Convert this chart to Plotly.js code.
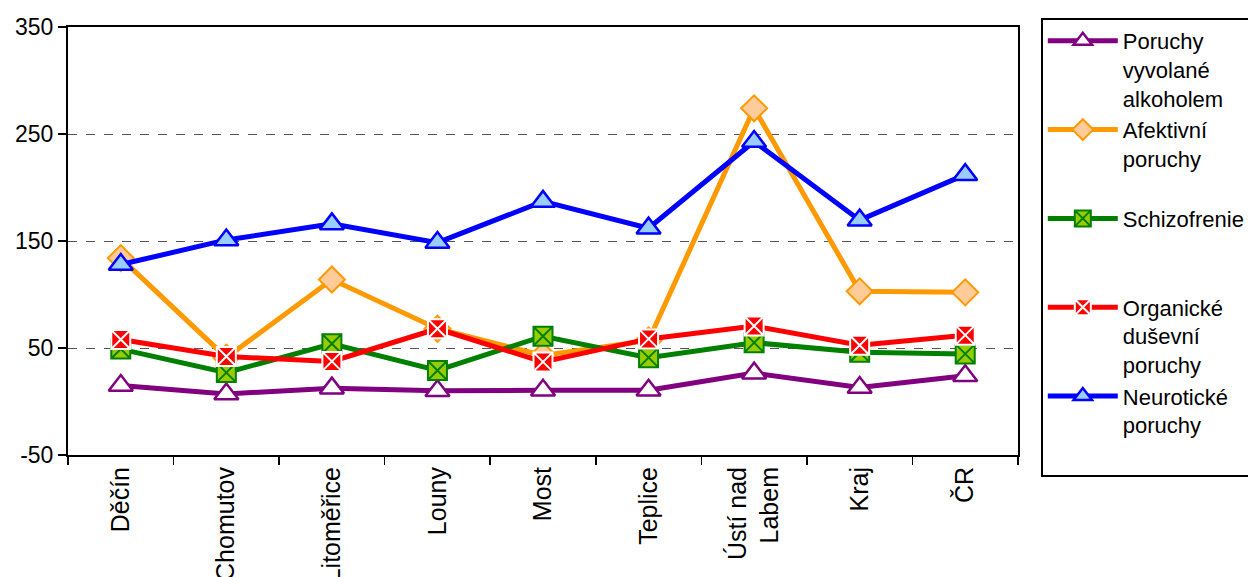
<!DOCTYPE html>
<html>
<head>
<meta charset="utf-8">
<script src="https://cdn.plot.ly/plotly-3.0.1.min.js"></script>
<style>html,body{margin:0;padding:0;background:#fff;}#chart{width:1248px;height:577px;}</style>
</head>
<body>
<div id="chart"></div>
<script>
const categories = ["Děčín", "Chomutov", "Litoměřice", "Louny", "Most", "Teplice", "Ústí nad<br>Labem", "Kraj", "ČR"];
const alkohol = [15, 7, 12.5, 10, 10.5, 10.5, 26.5, 13, 24];
const afektivni = [134, 41, 114, 68, 43, 57, 274, 103, 102];
const schizofrenie = [49, 27, 54, 29, 61, 41, 55, 46, 44.5];
const organicke = [58, 42, 37.5, 68, 37, 58.5, 70.5, 52.5, 62];
const neuroticke = [128, 151, 166, 148.5, 187, 162, 243, 169.5, 212];
const seriesNames = [
  "Poruchy<br>vyvolané<br>alkoholem",
  "Afektivní<br>poruchy<br>&nbsp;",
  "Schizofrenie<br>&nbsp;<br>&nbsp;",
  "Organické<br>duševní<br>poruchy",
  "Neurotické<br>poruchy<br>&nbsp;"
];
const yTicks = [-50, 50, 150, 250, 350];

const FONT = "Liberation Sans, Arial, sans-serif";

function tr(y, name, lineColor, symbol, fill, mlColor, mlWidth, size) {
  return {
    type: "scatter", mode: "lines+markers", x: categories, y: y, name: name,
    line: {color: lineColor, width: 5},
    marker: {symbol: symbol, color: fill, size: size, line: {color: mlColor, width: mlWidth}}
  };
}

const data = [
  tr(alkohol, seriesNames[0], "#800080", "triangle-up", "#ffffff", "#800080", 2.5, 21),
  tr(afektivni, seriesNames[1], "#ff9900", "diamond", "#ffcc99", "#ff9900", 2, 20),
  tr(schizofrenie, seriesNames[2], "#008000", "square-x", "#99cc00", "#008000", 2, 19),
  tr(organicke, seriesNames[3], "#ff0000", "square-x", "#ff0000", "#ffffff", 2, 19),
  tr(neuroticke, seriesNames[4], "#0000ff", "triangle-up", "#99ccff", "#0000ff", 2.5, 21)
];

const layout = {
  width: 1248, height: 577,
  margin: {l: 68, r: 230, t: 27, b: 122, autoexpand: false},
  paper_bgcolor: "#ffffff", plot_bgcolor: "#ffffff",
  font: {family: FONT, color: "#000000", size: 22},
  showlegend: true,
  legend: {
    x: 1.024, xanchor: "left", y: 1.021, yanchor: "top",
    bordercolor: "#000000", borderwidth: 2, bgcolor: "#ffffff",
    font: {family: FONT, size: 22, color: "#000000"},
    valign: "top", itemwidth: 70, traceorder: "normal", maxheight: 800
  },
  xaxis: {
    type: "category", range: [-0.5, 8.5], automargin: false,
    showline: true, linecolor: "#000000", linewidth: 2, mirror: true,
    ticks: "outside", tickson: "boundaries", ticklen: 8, tickwidth: 1.5, tickcolor: "#000000",
    tickangle: -90, tickfont: {family: FONT, size: 25, color: "#000000"},
    showgrid: false, zeroline: false, fixedrange: true
  },
  yaxis: {
    range: [-50, 350], tickmode: "array", tickvals: yTicks, ticktext: yTicks.map(String), automargin: false,
    showline: true, linecolor: "#000000", linewidth: 2, mirror: true,
    ticks: "outside", ticklen: 8, tickwidth: 1.5, tickcolor: "#000000",
    tickfont: {family: FONT, size: 23, color: "#000000"},
    showgrid: true, gridcolor: "#555555", gridwidth: 1, griddash: "dash",
    zeroline: false, fixedrange: true
  }
};

Plotly.newPlot("chart", data, layout, {displayModeBar: false, staticPlot: true});
</script>
</body>
</html>
